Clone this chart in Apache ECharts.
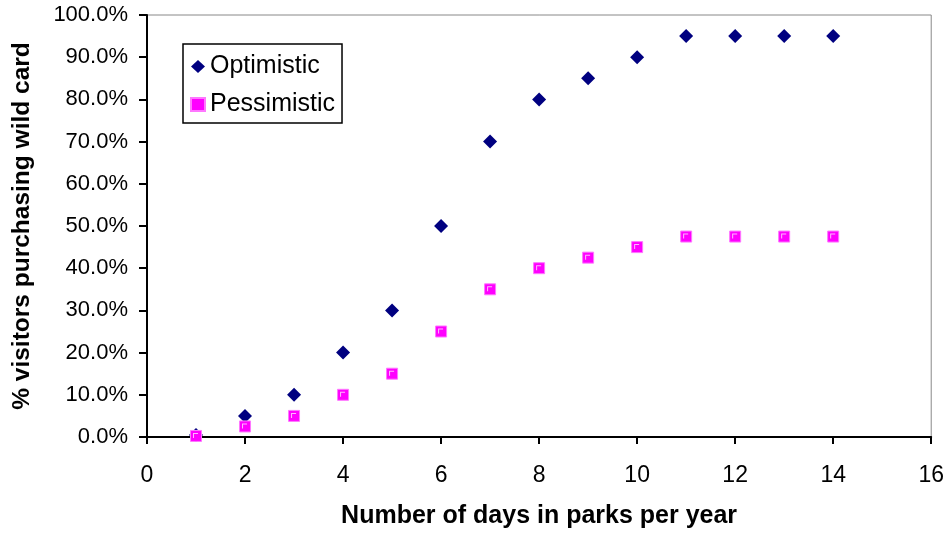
<!DOCTYPE html>
<html><head><meta charset="utf-8">
<script src="https://cdn.jsdelivr.net/npm/echarts@6/dist/echarts.min.js"></script>
<style>html,body{margin:0;padding:0;background:#fff}#c{width:947px;height:536px}</style>
</head><body><div id="c"></div>
<script>
const days = [1,2,3,4,5,6,7,8,9,10,11,12,13,14];
const optimistic = [0.5,5,10,20,30,50,70,80,85,90,95,95,95,95];
const pessimistic = [0.25,2.5,5,10,15,25,35,40,42.5,45,47.5,47.5,47.5,47.5];
const xTitle = 'Number of days in parks per year';
const yTitle = '% visitors purchasing wild card';
const font = 'Liberation Sans, Arial, sans-serif';
const chart = echarts.init(document.getElementById('c'));
const pessData = days.map((d,i)=>[d,pessimistic[i]]);
chart.setOption({
  animation:false,
  backgroundColor:'#fff',
  grid:{left:147,right:15,top:15,bottom:99,show:true,borderColor:'#888',borderWidth:1},
  legend:{
    left:183, top:44, orient:'vertical', itemGap:13, padding:[10,7,6,7],
    borderColor:'#000', borderWidth:1.5, backgroundColor:'#fff',
    itemWidth:14, itemHeight:13,
    textStyle:{fontFamily:font,fontSize:25,color:'#000'},
    data:['Optimistic','Pessimistic']
  },
  xAxis:{
    type:'value', min:0, max:16, interval:2,
    name:xTitle, nameLocation:'middle', nameGap:67,
    nameTextStyle:{fontFamily:font,fontSize:25,fontWeight:'bold',color:'#000'},
    axisLine:{lineStyle:{color:'#000',width:2}},
    axisTick:{show:true,length:7,lineStyle:{color:'#000',width:2}},
    axisLabel:{fontFamily:font,fontSize:23,color:'#000',margin:27},
    splitLine:{show:false}
  },
  yAxis:{
    type:'value', min:0, max:100, interval:10,
    name:yTitle, nameLocation:'middle', nameGap:112, nameRotate:90,
    nameTextStyle:{fontFamily:font,fontSize:24.5,fontWeight:'bold',color:'#000'},
    axisLine:{show:true,lineStyle:{color:'#000',width:2}},
    axisTick:{show:true,length:8,lineStyle:{color:'#000',width:2}},
    axisLabel:{fontFamily:font,fontSize:22,color:'#000',margin:19,formatter:v=>v.toFixed(1)+'%'},
    splitLine:{show:false}
  },
  series:[
    {name:'Optimistic',type:'scatter',symbol:'diamond',symbolSize:14,
     itemStyle:{color:'#000080',opacity:1},data:days.map((d,i)=>[d,optimistic[i]]),z:2},
    {name:'Pessimistic',type:'scatter',symbol:'rect',symbolSize:11,
     itemStyle:{color:'#FF00FF',borderColor:'#FF77FF',borderWidth:1,opacity:1},data:pessData,z:3},
    {name:'hl',type:'scatter',silent:true,symbol:'path://M0,0 L10,0 L10,2 L2,2 L2,10 L0,10 Z',
     symbolSize:5,symbolOffset:[-0.5,-0.5],
     itemStyle:{color:'#FFB8FF',opacity:1},data:pessData,z:4}
  ]
});
</script></body></html>
